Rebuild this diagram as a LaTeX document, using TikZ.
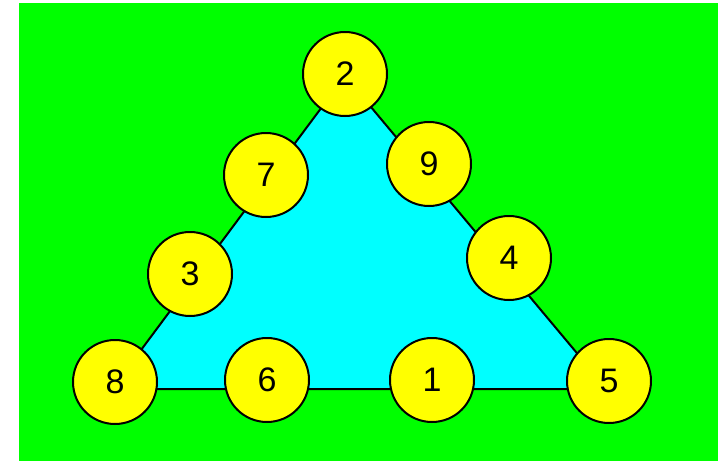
\documentclass[tikz,border=0pt]{standalone}
\usepackage{fontspec}
\setmainfont{Liberation Sans}
\definecolor{bggreen}{RGB}{0,255,0}
\definecolor{tricyan}{RGB}{0,255,255}
\definecolor{ballyellow}{RGB}{255,255,0}
\begin{document}
\begin{tikzpicture}[x=1pt,y=-1pt,
  ball/.style={circle,draw=black,line width=2pt,fill=ballyellow,minimum size=84pt,inner sep=0pt,
    font=\fontsize{34}{34}\selectfont},
  tri/.style={draw=black,line width=2pt,fill=tricyan,line join=miter}]
\fill[white] (0,0) rectangle (724,461);
\useasboundingbox (0,0) rectangle (724,461);
\fill[bggreen] (19,3) rectangle (718,461);
\coordinate (top) at (345,76);
\coordinate (left) at (112,389);
\coordinate (right) at (607,389);
\draw[tri] (top) -- (left) -- (right) -- cycle;
\node[ball] (n2) at (345,74) {2};
\node[ball] (n7) at (266,175) {7};
\node[ball] (n9) at (429,164) {9};
\node[ball] (n3) at (190,274) {3};
\node[ball] (n4) at (509,258) {4};
\node[ball] (n8) at (115,382) {8};
\node[ball] (n6) at (267,380) {6};
\node[ball] (n1) at (432,380) {1};
\node[ball] (n5) at (609,381) {5};
\end{tikzpicture}
\end{document}
